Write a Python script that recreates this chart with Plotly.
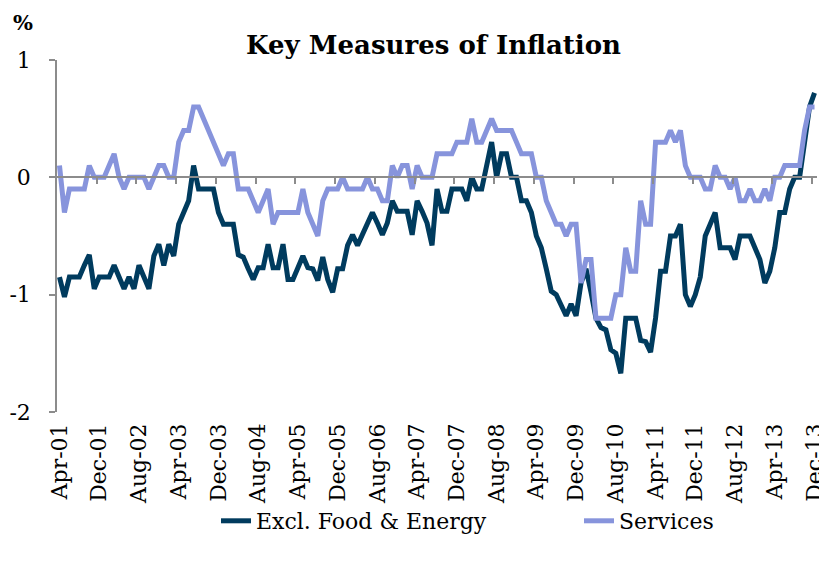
import plotly.graph_objects as go

months = [m for y in range(2001, 2014) for m in ["Jan","Feb","Mar","Apr","May","Jun","Jul","Aug","Sep","Oct","Nov","Dec"]
          ]
years = [str(y)[2:] for y in range(2001, 2014) for _ in range(12)]
month_labels = [f"{m}-{y}" for m, y in zip(months, years)][3:]  # Apr-01 .. Dec-13

core = [-0.85, -1.02, -0.85, -0.85, -0.85, -0.75, -0.66, -0.95, -0.85, -0.85,
        -0.85, -0.75, -0.85, -0.95, -0.85, -0.95, -0.75, -0.85, -0.95, -0.67,
        -0.57, -0.75, -0.57, -0.67, -0.4, -0.3, -0.2, 0.1, -0.1, -0.1,
        -0.1, -0.1, -0.3, -0.4, -0.4, -0.4, -0.66, -0.68, -0.78, -0.87,
        -0.77, -0.77, -0.57, -0.77, -0.77, -0.57, -0.87, -0.87, -0.77, -0.67,
        -0.77, -0.78, -0.88, -0.68, -0.87, -0.98, -0.78, -0.78, -0.58, -0.49,
        -0.58, -0.49, -0.39, -0.3, -0.39, -0.49, -0.39, -0.2, -0.29, -0.29,
        -0.29, -0.49, -0.2, -0.29, -0.39, -0.58, -0.1, -0.29, -0.29, -0.1,
        -0.1, -0.1, -0.2, 0.0, -0.1, -0.1, 0.1, 0.3, 0.0, 0.2,
        0.2, 0.0, 0.0, -0.2, -0.2, -0.3, -0.5, -0.6, -0.78, -0.97,
        -1.0, -1.08, -1.18, -1.08, -1.18, -0.9, -0.78, -0.98, -1.2, -1.28,
        -1.3, -1.47, -1.5, -1.67, -1.2, -1.2, -1.2, -1.39, -1.4, -1.49,
        -1.2, -0.8, -0.8, -0.5, -0.5, -0.4, -1.0, -1.1, -1.0, -0.85,
        -0.5, -0.4, -0.3, -0.6, -0.6, -0.6, -0.7, -0.5, -0.5, -0.5,
        -0.6, -0.7, -0.9, -0.8, -0.6, -0.3, -0.3, -0.1, 0.0, 0.0,
        0.3, 0.6, 0.72]

services = [0.1, -0.3, -0.1, -0.1, -0.1, -0.1, 0.1, 0.0, 0.0, 0.0,
            0.1, 0.2, 0.0, -0.1, 0.0, 0.0, 0.0, 0.0, -0.1, 0.0,
            0.1, 0.1, 0.0, 0.0, 0.3, 0.4, 0.4, 0.6, 0.6, 0.5,
            0.4, 0.3, 0.2, 0.1, 0.2, 0.2, -0.1, -0.1, -0.1, -0.2,
            -0.3, -0.2, -0.1, -0.4, -0.3, -0.3, -0.3, -0.3, -0.3, -0.1,
            -0.3, -0.4, -0.5, -0.2, -0.1, -0.1, -0.1, 0.0, -0.1, -0.1,
            -0.1, -0.1, 0.0, -0.1, -0.1, -0.2, -0.2, 0.1, 0.0, 0.1,
            0.1, -0.1, 0.1, 0.0, 0.0, 0.0, 0.2, 0.2, 0.2, 0.2,
            0.3, 0.3, 0.3, 0.5, 0.3, 0.3, 0.4, 0.5, 0.4, 0.4,
            0.4, 0.4, 0.3, 0.2, 0.2, 0.2, 0.0, 0.0, -0.2, -0.3,
            -0.4, -0.4, -0.5, -0.4, -0.4, -0.9, -0.7, -0.7, -1.2, -1.2,
            -1.2, -1.2, -1.0, -1.0, -0.6, -0.8, -0.8, -0.2, -0.4, -0.4,
            0.3, 0.3, 0.3, 0.4, 0.3, 0.4, 0.1, 0.0, 0.0, 0.0,
            -0.1, -0.1, 0.1, 0.0, 0.0, -0.1, 0.0, -0.2, -0.2, -0.1,
            -0.2, -0.2, -0.1, -0.2, 0.0, 0.0, 0.1, 0.1, 0.1, 0.1,
            0.4, 0.6, 0.6]

y_tick_vals = [-2, -1, 0, 1]
y_tick_text = ["-2", "-1", "0", "1"]

idx = list(range(len(month_labels)))
label_idx = idx[::8]
label_text = [month_labels[i] for i in label_idx]
boundary_ticks = [i - 0.5 for i in label_idx[1:]]

FONT = "DejaVu Serif"
GRAY = "#8c8c8c"

# the page body adds an 8px offset; the figure is sized/positioned to compensate
W, H = 819, 558
L, T = 48.5, 52
PW, PH = 761, 352

fig = go.Figure()
fig.add_trace(go.Scatter(x=idx, y=core, mode="lines", name="Excl. Food & Energy",
                         line=dict(color="#003b5e", width=5)))
fig.add_trace(go.Scatter(x=idx, y=services, mode="lines", name="Services",
                         line=dict(color="#8794dc", width=5)))
# invisible trace so the zero-crossing category axis is drawn
fig.add_trace(go.Scatter(x=[None], y=[None], xaxis="x2", yaxis="y", showlegend=False,
                         hoverinfo="skip"))

fig.update_layout(
    width=W, height=H,
    margin=dict(l=L, r=W - L - PW, t=T, b=H - T - PH, autoexpand=False),
    paper_bgcolor="white", plot_bgcolor="white",
    font=dict(family=FONT, size=20, color="black"),
    showlegend=True,
    legend=dict(orientation="h", xref="container", yref="container",
                x=208 / W, xanchor="left",
                y=1 - 513 / H, yanchor="middle",
                font=dict(family=FONT, size=22), entrywidth=318,
                entrywidthmode="pixels", bgcolor="rgba(0,0,0,0)"),
    title=dict(text="<b>Key Measures of Inflation</b>", x=425.5 / W, xref="container",
               xanchor="center", y=1 - 37 / H, yref="container", yanchor="middle",
               font=dict(family=FONT, size=26, color="black")),
    xaxis=dict(range=[-0.5, 152.5], tickmode="array", tickvals=label_idx, ticktext=label_text,
               tickangle=-90, showline=False, ticks="", showgrid=False, zeroline=False,
               automargin=False, ticklabelstandoff=6, tickfont=dict(family=FONT, size=22)),
    xaxis2=dict(range=[-0.5, 152.5], overlaying="x", anchor="free", position=2 / 3,
                side="bottom", showline=True, linecolor=GRAY, linewidth=2,
                tickmode="array", tickvals=boundary_ticks, ticks="outside", ticklen=6,
                tickcolor=GRAY, tickwidth=1.5, showticklabels=False, showgrid=False,
                zeroline=False, automargin=False),
    yaxis=dict(range=[-2, 1], tickmode="array", tickvals=y_tick_vals, ticktext=y_tick_text,
               showline=True, linecolor=GRAY, linewidth=1.5, ticks="outside", ticklen=6,
               tickcolor=GRAY, tickwidth=1.5, showgrid=False, zeroline=False,
               automargin=False, ticklabelstandoff=14, tickfont=dict(family=FONT, size=22)),
)

fig.add_annotation(text="<b>%</b>", xref="paper", yref="paper",
                   x=(14 - L) / PW, y=1 + (T - 14) / PH, showarrow=False,
                   xanchor="center", yanchor="middle", font=dict(family=FONT, size=21))

fig.write_html("out.html")
